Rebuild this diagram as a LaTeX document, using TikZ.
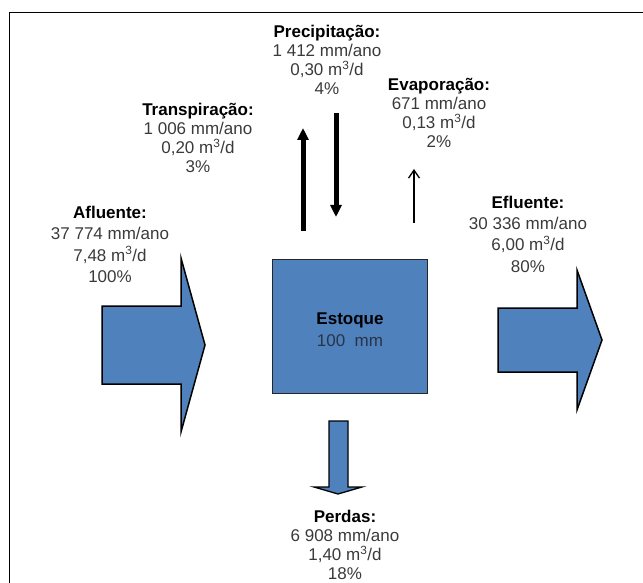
\documentclass[tikz,border=0pt]{standalone}
\usepackage{fontspec}
\setmainfont{Liberation Sans}
\usetikzlibrary{arrows.meta}

\definecolor{flowblue}{RGB}{79,129,189}
\definecolor{valgray}{RGB}{58,58,58}

\newcommand{\flowtitle}[1]{{\color{black}\bfseries #1}}

\begin{document}
\begin{tikzpicture}[x=1pt,y=-1pt,
  % multi-line labels are anchored at the baseline of their last line
  flowlabel/.style={align=center, inner sep=0pt, anchor=base, text=valgray,
    font=\fontsize{17}{19}\selectfont},
  widelabel/.style={flowlabel, font=\fontsize{17}{21.5}\selectfont},
  blockarrow/.style={fill=flowblue, draw=black, line width=1.5pt, line join=miter},
  heavyarrow/.style={line width=5pt, -{Triangle[length=12pt,width=11pt]}},
  lightarrow/.style={line width=1.3pt, -{Straight Barb[length=8pt,width=11pt]}}
]
\useasboundingbox (0,0) rectangle (643,583);
\clip (0,0) rectangle (643,583);

% outer frame (open to the right and bottom)
\draw[line width=1.4pt] (9.3,600) -- (9.3,12.3) -- (660,12.3);

% storage box
\node[draw=black!85, line width=1pt, fill=flowblue, minimum width=155pt,
  minimum height=134pt, inner sep=0pt] (estoque) at (349.8,326.2) {};
\node[flowlabel, font=\fontsize{17}{22}\selectfont, text={rgb,255:red,40;green,52;blue,72}]
  (estoquetxt) at (350,346) {\flowtitle{Estoque}\\100\ \ mm};

% inflow and outflow block arrows
\draw[blockarrow] (102,306) -- (181,306) -- (181,258) -- (205,345)
  -- (181,432) -- (181,384) -- (102,384) -- cycle;
\draw[blockarrow] (498,308) -- (577,308) -- (577,270) -- (602,340)
  -- (577,410) -- (577,372) -- (498,372) -- cycle;
% losses arrow
\draw[blockarrow, line width=1.3pt] (329,421) -- (348,421) -- (348,487) -- (362,487)
  -- (338,494) -- (314,487) -- (329,487) -- cycle;

% vertical flux arrows
\coordinate (transpA) at (303,231);
\coordinate (transpB) at (303,128);
\coordinate (precA) at (336,113);
\coordinate (precB) at (336,217);
\coordinate (evapA) at (414,223);
\coordinate (evapB) at (414,169);
\draw[heavyarrow] (transpA) -- (transpB);
\draw[heavyarrow] (precA) -- (precB);
\draw[lightarrow] (evapA) -- (evapB);

% labels
\node[flowlabel] (prec) at (327,95)
  {\flowtitle{Precipitação:}\\1 412 mm/ano\\0,30 m\textsuperscript{3}/d\\4\%};
\node[flowlabel] (evap) at (439,148)
  {\flowtitle{Evaporação:}\\671 mm/ano\\0,13 m\textsuperscript{3}/d\\2\%};
\node[flowlabel] (transp) at (198,173)
  {\flowtitle{Transpiração:}\\1 006 mm/ano\\0,20 m\textsuperscript{3}/d\\3\%};
\node[widelabel] (aflu) at (110,282.5)
  {\flowtitle{Afluente:}\\37 774 mm/ano\\7,48 m\textsuperscript{3}/d\\100\%};
\node[widelabel] (eflu) at (528,272.5)
  {\flowtitle{Efluente:}\\30 336 mm/ano\\6,00 m\textsuperscript{3}/d\\80\%};
\node[flowlabel, font=\fontsize{17}{18.7}\selectfont] (perdas) at (345,579)
  {\flowtitle{Perdas:}\\6 908 mm/ano\\1,40 m\textsuperscript{3}/d\\18\%};
\end{tikzpicture}
\end{document}
